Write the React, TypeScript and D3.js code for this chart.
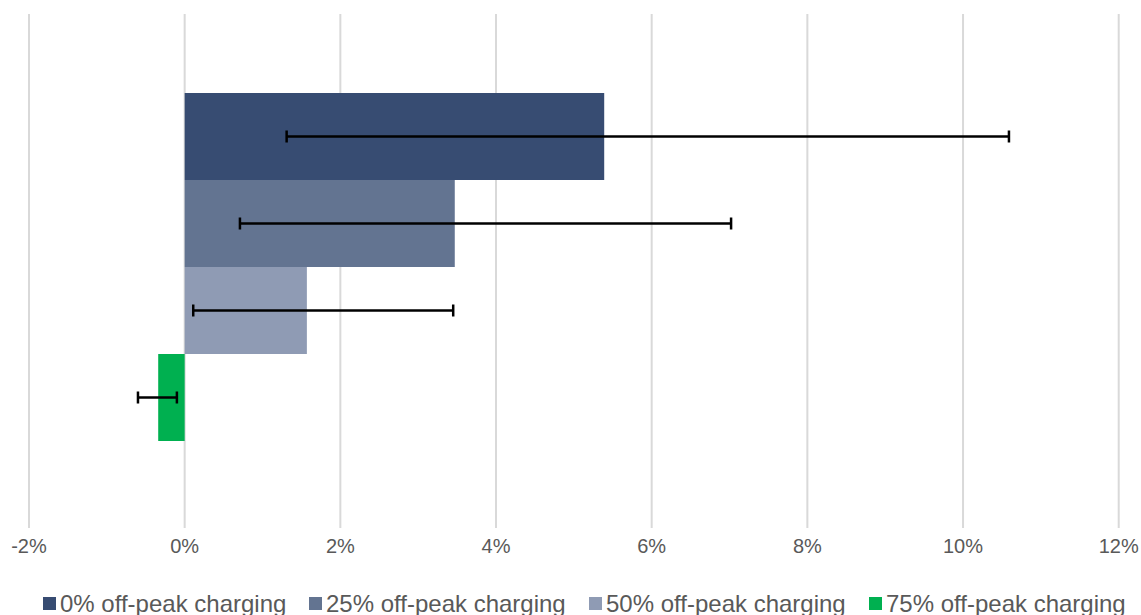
import React, { useEffect, useRef } from "react";
import * as d3 from "d3";

// chart data
const categories = ["Change"];
const seriesNames = [
    "0% off-peak charging",
    "25% off-peak charging",
    "50% off-peak charging",
    "75% off-peak charging",
];
const seriesValues = [5.39, 3.47, 1.57, -0.34];
const errorLow = [1.31, 0.71, 0.11, -0.6];
const errorHigh = [10.59, 7.02, 3.45, -0.1];
const seriesColors = ["#374c72", "#637491", "#8f9bb4", "#00b050"];
const xTicks = [-2, 0, 2, 4, 6, 8, 10, 12];

export default function App() {
    const ref = useRef<SVGSVGElement>(null);

    useEffect(() => {
        const svg = d3.select(ref.current);
        svg.selectAll("*").remove();

        const width = 1141;
        const font = "'Liberation Sans', Arial, sans-serif";

        const x = d3.scaleLinear().domain([-2, 12]).range([29, 1118.7]);

        // one category band, then one slot per series inside it
        const yCat = d3.scaleBand().domain(categories).range([6, 528]).padding(0.2);
        const ySer = d3.scaleBand()
            .domain(seriesNames)
            .range([yCat(categories[0])!, yCat(categories[0])! + yCat.bandwidth()]);

        // gridlines
        svg.append("g")
            .selectAll("line")
            .data(xTicks)
            .enter()
            .append("line")
            .attr("x1", d => x(d))
            .attr("x2", d => x(d))
            .attr("y1", 14)
            .attr("y2", 528)
            .attr("stroke", "#d9d9d9")
            .attr("stroke-width", 2);

        // tick labels
        svg.append("g")
            .selectAll("text")
            .data(xTicks)
            .enter()
            .append("text")
            .attr("x", d => x(d))
            .attr("y", 553)
            .attr("text-anchor", "middle")
            .attr("font-family", font)
            .attr("font-size", 20)
            .attr("fill", "#595959")
            .text(d => d + "%");

        // bars
        svg.append("g")
            .selectAll("rect")
            .data(seriesNames)
            .enter()
            .append("rect")
            .attr("x", (d, i) => x(Math.min(0, seriesValues[i])))
            .attr("width", (d, i) => Math.abs(x(seriesValues[i]) - x(0)))
            .attr("y", d => ySer(d)!)
            .attr("height", ySer.bandwidth())
            .attr("fill", (d, i) => seriesColors[i]);

        // error bars
        const err = svg.append("g")
            .attr("stroke", "#000")
            .attr("stroke-width", 2.5);
        seriesNames.forEach((name, i) => {
            const cy = ySer(name)! + ySer.bandwidth() / 2;
            err.append("line")
                .attr("x1", x(errorLow[i]))
                .attr("x2", x(errorHigh[i]))
                .attr("y1", cy)
                .attr("y2", cy);
            [errorLow[i], errorHigh[i]].forEach(v => {
                err.append("line")
                    .attr("x1", x(v))
                    .attr("x2", x(v))
                    .attr("y1", cy - 6)
                    .attr("y2", cy + 6);
            });
        });

        // legend
        const legendX = [43, 309, 589, 869];
        const legend = svg.append("g");
        seriesNames.forEach((name, i) => {
            legend.append("rect")
                .attr("x", legendX[i])
                .attr("y", 597)
                .attr("width", 13)
                .attr("height", 13)
                .attr("fill", seriesColors[i]);
            legend.append("text")
                .attr("x", legendX[i] + 17)
                .attr("y", 612)
                .attr("font-family", font)
                .attr("font-size", 24)
                .attr("fill", "#595959")
                .text(name);
        });

        svg.attr("width", width);
    }, []);

    return (
        <svg
            ref={ref}
            width={1141}
            height={615}
            style={{ position: "absolute", left: 0, top: 0, background: "#fff" }}
        />
    );
}
